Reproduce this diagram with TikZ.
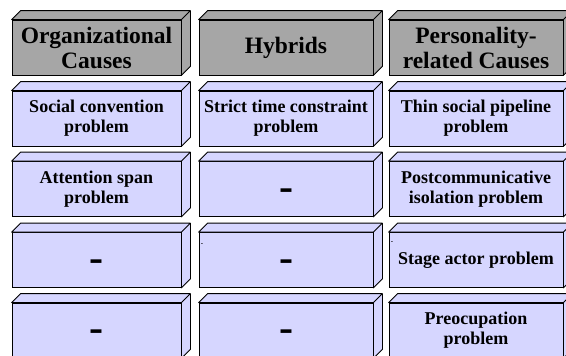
\documentclass[tikz,border=0pt]{standalone}
\usepackage{fontspec}
\setmainfont{Liberation Serif}
\usepackage{tikz}

\definecolor{headgray}{RGB}{166,166,166}
\definecolor{cellblue}{RGB}{214,214,255}

\tikzset{
    slab/.style = {draw , line width = 0.8pt , rectangle , inner sep = 0pt , align = center , minimum height = 55pt},
    head/.style = {slab , fill = headgray , font = \fontsize{23.5}{25}\selectfont\bfseries},
    cell/.style = {slab , fill = cellblue , font = \fontsize{18}{20}\selectfont\bfseries},
    bar/.style = {font = \fontsize{42}{42}\selectfont\bfseries},
    tick/.style = {inner sep = 0pt , font = \fontsize{7}{7}\selectfont\bfseries}
}

% top and right faces of a slab
\newcommand{\slabside}[2]{%
    \filldraw[fill = #2 , line width = 0.8pt , line join = round] (#1.north west) -- ++(9pt,9pt) -- ([shift = {(9pt,9pt)}]#1.north east) -- ([shift = {(9pt,9pt)}]#1.south east) -- (#1.south east) -- (#1.north east) -- cycle (#1.north east) -- ++(9pt,9pt);%
}
% the big dash, kept at the middle of its slab
\newcommand{\nodash}{\raisebox{-11pt}[0pt][0pt]{-}}

\begin{document}
\begin{tikzpicture}[x = 1pt , y = -1pt]
    \useasboundingbox (0,0) rectangle (566,356);
    % headings
    \node[head , minimum width = 169pt] (o0) at (96.5,47.5) {Organizational\\Causes};
    \node[head , minimum width = 174pt] (h0) at (286,47.5) {Hybrids};
    \node[head , minimum width = 174pt] (p0) at (476,47.5) {Personality-\\related Causes};
    % first column
    \node[cell , minimum width = 169pt] (o1) at (96.5,118.5) {Social convention\\problem};
    \node[cell , minimum width = 169pt] (o2) at (96.5,189) {Attention span\\problem};
    \node[cell , bar , minimum width = 169pt] (o3) at (96.5,260) {\nodash};
    \node[cell , bar , minimum width = 169pt] (o4) at (96.5,330.5) {\nodash};
    % second column
    \node[cell , minimum width = 174pt] (h1) at (286,118.5) {Strict time constraint\\problem};
    \node[cell , bar , minimum width = 174pt] (h2) at (286,189) {\nodash};
    \node[cell , bar , minimum width = 174pt] (h3) at (286,260) {\nodash};
    \node[cell , bar , minimum width = 174pt] (h4) at (286,330.5) {\nodash};
    % third column
    \node[cell , minimum width = 174pt] (p1) at (476,118.5) {Thin social pipeline\\problem};
    \node[cell , minimum width = 174pt] (p2) at (476,189) {Postcommunicative\\isolation problem};
    \node[cell , minimum width = 174pt] (p3) at (476,260) {Stage actor problem};
    \node[cell , minimum width = 174pt] (p4) at (476,330.5) {Preocupation\\problem};
    % stray marks
    \node[tick] (t1) at (202,245) {-};
    \node[tick] (t2) at (392,243) {-};
    % depth
    \foreach \n in {o0,h0,p0} {\slabside{\n}{headgray}}
    \foreach \n in {o1,o2,o3,o4,h1,h2,h3,h4,p1,p2,p3,p4} {\slabside{\n}{cellblue}}
\end{tikzpicture}
\end{document}
